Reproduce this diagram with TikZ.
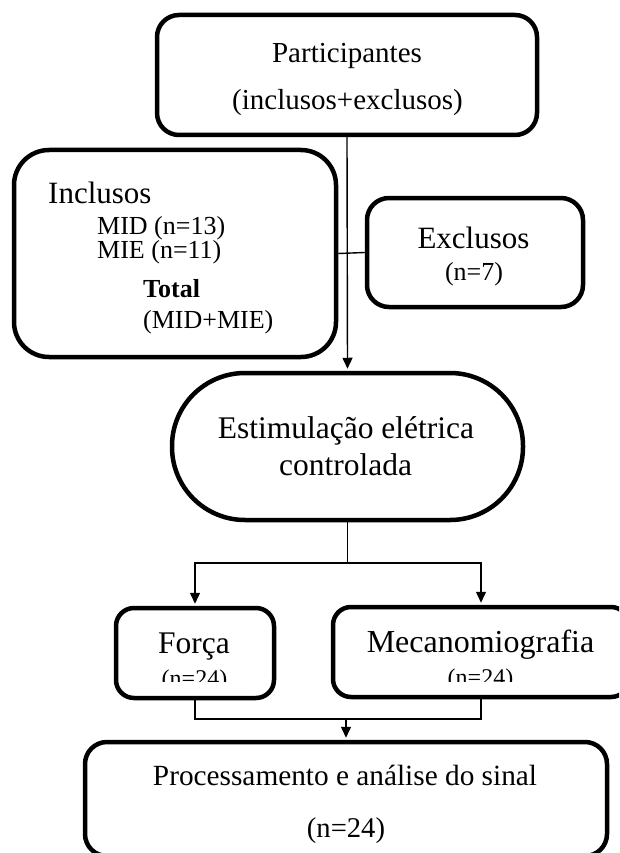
\documentclass[tikz,border=0pt]{standalone}
\usepackage{fontspec}
\setmainfont{Liberation Serif}
\usetikzlibrary{arrows.meta}
\begin{document}
\begin{tikzpicture}[x=1pt,y=-1pt,
  box/.style={draw, line width=4.5pt, inner sep=0pt, fill=white},
  conn/.style={line width=1.4pt},
  arr/.style={conn, -{Triangle[length=11pt,width=10pt]}, shorten >=2pt},
  txt/.style={inner sep=0pt, anchor=base},
  txtl/.style={inner sep=0pt, anchor=base west}]
\useasboundingbox (0,0) rectangle (619,853);
\clip (0,0) rectangle (619,853);
\fill[white] (0,0) rectangle (619,853);

% boxes
\node[box, rounded corners=22pt, minimum width=380pt, minimum height=120pt] (part) at (347,75) {};
\node[box, rounded corners=35pt, minimum width=322pt, minimum height=207pt] (incl) at (175,253.5) {};
\node[box, rounded corners=22pt, minimum width=216pt, minimum height=109pt] (excl) at (475,252.5) {};
\node[box, rounded corners=73pt, minimum width=351pt, minimum height=147pt] (est) at (347.5,446.5) {};
\node[box, rounded corners=18pt, minimum width=158pt, minimum height=90pt] (forca) at (195,653) {};
\node[box, rounded corners=18pt, minimum width=296pt, minimum height=90pt] (mec) at (481,652) {};
\node[box, rounded corners=22pt, minimum width=522pt, minimum height=114pt] (proc) at (346,799) {};

% texts
\node[txt, font=\fontsize{29}{35}\selectfont] (t1) at (347,63) {Participantes};
\node[txt, font=\fontsize{29}{35}\selectfont] (t2) at (347.5,110) {(inclusos+exclusos)};

\node[txtl, font=\fontsize{31}{37}\selectfont] (t3) at (48,203) {Inclusos};
\node[txtl, font=\fontsize{26}{31}\selectfont] (t4) at (97,234.5) {MID (n=13)};
\node[txtl, font=\fontsize{26}{31}\selectfont] (t5) at (97,258.5) {MIE (n=11)};
\node[txtl, font=\fontsize{26}{31}\selectfont\bfseries] (t6) at (143,297) {Total};
\node[txtl, font=\fontsize{26}{31}\selectfont] (t7) at (143,328) {(MID+MIE)};

\node[txt, font=\fontsize{31}{37}\selectfont] (t8) at (473.5,248) {Exclusos};
\node[txt, font=\fontsize{26}{31}\selectfont] (t9) at (474,280) {(n=7)};

\node[txt, font=\fontsize{31.5}{38}\selectfont] (t10) at (346,438) {Estimulação elétrica};
\node[txt, font=\fontsize{31.5}{38}\selectfont] (t11) at (345.5,475) {controlada};

\node[txt, font=\fontsize{31.5}{38}\selectfont] (t12) at (194,653) {Força};
\node[txt, font=\fontsize{32}{38}\selectfont] (t14) at (480.5,652) {Mecanomiografia};
\begin{scope}
  \clip (100,600) rectangle (619,681.5);
  \node[txt, font=\fontsize{24}{29}\selectfont] (t13) at (194.5,686.5) {(n=24)};
  \node[txt, font=\fontsize{24}{29}\selectfont] (t15) at (480.5,685) {(n=24)};
\end{scope}

\node[txt, font=\fontsize{29.3}{35}\selectfont] (t16) at (345,785) {Processamento e análise do sinal};
\node[txt, font=\fontsize{28.6}{34}\selectfont] (t17) at (346,837) {(n=24)};

% connectors
\draw[arr] (part.south) -- (est.north);
\draw[conn] (incl.east) -- (excl.west);
\coordinate (split) at (347.5,563);
\coordinate (join) at (346,719);
\draw[conn] (est.south) -- (split);
\draw[arr] (split) -| (forca.north);
\draw[arr] (split) -| (mec.north);
\draw[conn] (forca.south) |- (join);
\draw[conn] (mec.south) |- (join);
\draw[arr] (join) -- (proc.north);
\end{tikzpicture}
\end{document}
